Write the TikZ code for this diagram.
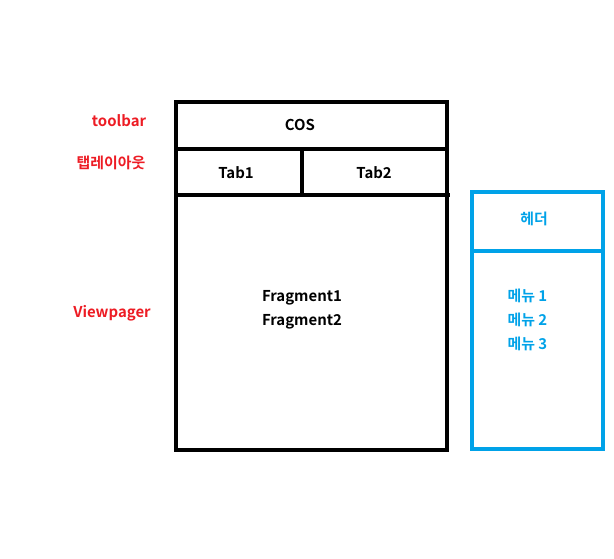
\documentclass[tikz,border=0pt]{standalone}
\usepackage{fontspec}
\setmainfont{Noto Sans CJK KR}[BoldFont={* Bold}]
\definecolor{paintred}{HTML}{ED1C24}
\definecolor{paintblue}{HTML}{00A2E8}
\begin{document}
\begin{tikzpicture}[x=0.02cm, y=-0.02cm, line width=2pt,
  lbl/.style={font=\fontsize{8.5}{13.6}\selectfont\bfseries, inner sep=1pt}]
  \useasboundingbox (0,0) rectangle (614,558);
  % main screen
  \draw (176,102) rectangle (447,450);
  \draw (176,149) -- (447,149);
  \draw (176,195) -- (450,195);
  \draw (302,149) -- (302,195);
  \node[lbl] (cos) at (300,125) {COS};
  \node[lbl] (tab1) at (236,173) {Tab1};
  \node[lbl] (tab2) at (374,173) {Tab2};
  \node[lbl, align=left] (frag) at (302,310) {Fragment1\\Fragment2};
  % side labels
  \node[lbl, text=paintred] (toolbar) at (119,121) {toolbar};
  \node[lbl, text=paintred] (tablayout) at (111,163) {탭레이아웃};
  \node[lbl, text=paintred] (viewpager) at (112,313) {Viewpager};
  % drawer
  \draw[paintblue] (472,192) rectangle (603,449);
  \draw[paintblue] (472,251) -- (603,251);
  \node[lbl, text=paintblue] (header) at (534,219) {헤더};
  \node[lbl, text=paintblue, align=left, anchor=west] (menu) at (504,320) {메뉴 1\\메뉴 2\\메뉴 3};
\end{tikzpicture}
\end{document}
